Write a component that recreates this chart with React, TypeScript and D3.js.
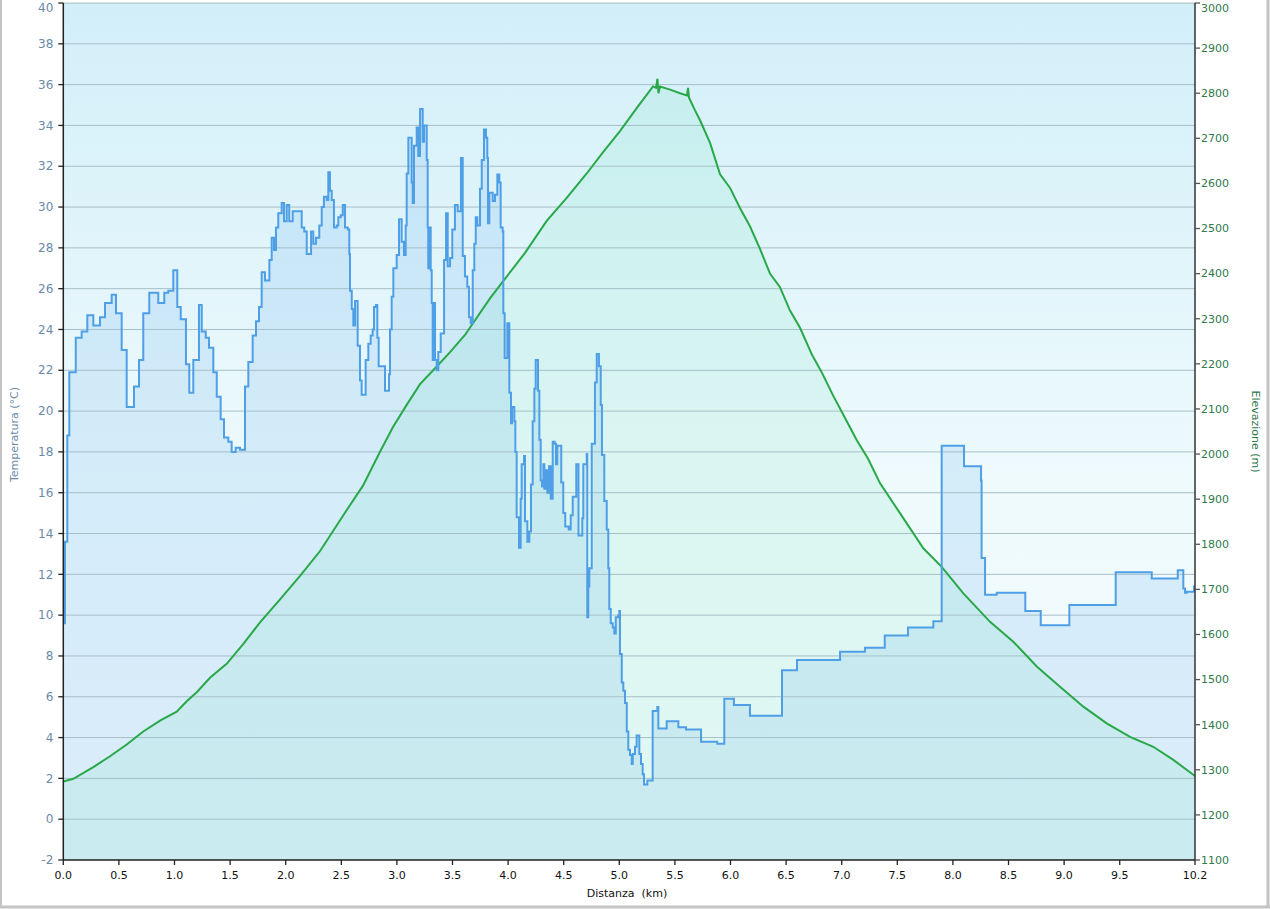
import React from "react";
import * as d3 from "d3";

// Temperature (°C) by distance (km), step series
const tempDist = [0, 0.006, 0.015, 0.036, 0.054, 0.112, 0.165, 0.216, 0.270, 0.330, 0.375, 0.435, 0.474, 0.525, 0.570, 0.636, 0.681, 0.719, 0.773, 0.854, 0.908, 0.944, 0.989, 1.025, 1.056, 1.103, 1.133, 1.169, 1.220, 1.245, 1.281, 1.310, 1.349, 1.380, 1.415, 1.445, 1.484, 1.514, 1.550, 1.589, 1.634, 1.664, 1.703, 1.733, 1.760, 1.784, 1.814, 1.853, 1.874, 1.895, 1.913, 1.933, 1.964, 1.985, 2.009, 2.032, 2.063, 2.144, 2.167, 2.189, 2.228, 2.248, 2.272, 2.302, 2.324, 2.344, 2.369, 2.383, 2.398, 2.414, 2.434, 2.459, 2.473, 2.495, 2.513, 2.533, 2.558, 2.572, 2.578, 2.594, 2.608, 2.623, 2.647, 2.668, 2.683, 2.719, 2.743, 2.764, 2.782, 2.794, 2.812, 2.824, 2.836, 2.893, 2.929, 2.938, 2.953, 2.968, 2.998, 3.019, 3.043, 3.064, 3.079, 3.088, 3.103, 3.133, 3.142, 3.154, 3.178, 3.192, 3.208, 3.232, 3.244, 3.268, 3.277, 3.282, 3.291, 3.304, 3.313, 3.322, 3.334, 3.343, 3.358, 3.372, 3.394, 3.424, 3.442, 3.457, 3.478, 3.498, 3.522, 3.547, 3.576, 3.592, 3.612, 3.633, 3.648, 3.664, 3.682, 3.696, 3.709, 3.723, 3.747, 3.763, 3.783, 3.801, 3.813, 3.819, 3.831, 3.862, 3.882, 3.903, 3.921, 3.933, 3.951, 3.957, 3.969, 3.993, 4.011, 4.026, 4.035, 4.056, 4.065, 4.077, 4.098, 4.113, 4.122, 4.143, 4.152, 4.173, 4.191, 4.206, 4.221, 4.236, 4.248, 4.269, 4.281, 4.293, 4.305, 4.317, 4.326, 4.341, 4.353, 4.368, 4.383, 4.401, 4.419, 4.431, 4.442, 4.478, 4.496, 4.514, 4.545, 4.563, 4.581, 4.613, 4.633, 4.667, 4.676, 4.707, 4.712, 4.721, 4.730, 4.752, 4.781, 4.797, 4.817, 4.833, 4.844, 4.865, 4.887, 4.901, 4.910, 4.923, 4.941, 4.955, 4.968, 4.991, 5.000, 5.006, 5.022, 5.036, 5.051, 5.067, 5.081, 5.096, 5.112, 5.121, 5.141, 5.156, 5.180, 5.195, 5.210, 5.222, 5.252, 5.300, 5.342, 5.351, 5.426, 5.531, 5.600, 5.735, 5.881, 5.944, 6.031, 6.175, 6.463, 6.598, 6.985, 7.209, 7.387, 7.596, 7.824, 7.899, 8.100, 8.253, 8.258, 8.289, 8.394, 8.651, 8.790, 9.047, 9.464, 9.788, 10.022, 10.072, 10.087, 10.103, 10.168, 10.177];
const tempVals = [9.6, 9.6, 13.6, 18.8, 21.9, 23.6, 23.9, 24.7, 24.2, 24.6, 25.3, 25.7, 24.8, 23.0, 20.2, 21.2, 22.5, 24.8, 25.8, 25.3, 25.8, 25.9, 26.9, 25.1, 24.5, 22.3, 20.9, 22.5, 25.2, 23.9, 23.6, 23.1, 21.9, 20.7, 19.6, 18.7, 18.5, 18.0, 18.2, 18.1, 21.2, 22.4, 23.7, 24.4, 25.1, 26.8, 26.4, 27.4, 28.5, 27.9, 29.0, 29.7, 30.2, 29.3, 30.1, 29.3, 29.8, 29.0, 28.8, 27.7, 28.8, 28.2, 28.5, 29.1, 30.0, 30.5, 30.35, 31.7, 30.8, 30.35, 29.0, 29.1, 29.5, 29.6, 30.1, 29.0, 28.9, 27.7, 25.9, 25.0, 24.2, 25.4, 23.2, 21.5, 20.8, 22.5, 23.3, 23.7, 24.0, 25.1, 25.2, 23.6, 22.2, 21.0, 21.8, 24.0, 25.6, 27.0, 27.65, 29.4, 28.3, 27.65, 29.1, 31.65, 33.4, 31.2, 30.2, 33.0, 33.9, 32.5, 34.8, 33.2, 34.0, 32.3, 29.0, 27.0, 29.0, 26.9, 25.3, 22.5, 25.3, 22.5, 22.0, 22.9, 23.8, 27.4, 29.7, 27.1, 27.5, 28.9, 30.1, 29.8, 32.4, 27.6, 26.6, 26.1, 24.6, 24.3, 26.9, 28.2, 29.5, 29.1, 30.9, 32.3, 33.8, 33.4, 32.4, 29.2, 30.7, 30.3, 30.6, 31.6, 31.2, 29.0, 28.8, 24.8, 22.6, 24.3, 20.9, 19.4, 20.2, 19.5, 18.0, 14.8, 13.3, 15.7, 17.4, 17.8, 14.6, 13.6, 14.1, 16.4, 19.5, 21.1, 22.5, 21.0, 18.6, 16.6, 16.3, 17.4, 16.2, 17.1, 16.0, 17.3, 15.7, 18.5, 18.4, 17.4, 18.3, 16.5, 15.0, 14.35, 14.2, 14.9, 15.8, 17.4, 13.9, 14.75, 17.4, 17.9, 9.9, 11.4, 12.3, 18.4, 21.4, 22.8, 22.2, 20.3, 17.85, 15.6, 14.2, 12.3, 10.3, 9.6, 9.4, 9.1, 9.9, 10.0, 10.2, 8.1, 6.7, 6.3, 5.7, 4.3, 3.4, 3.15, 2.7, 3.2, 3.55, 4.1, 3.2, 2.7, 2.2, 1.7, 1.9, 5.3, 5.5, 4.45, 4.8, 4.5, 4.4, 3.8, 3.7, 5.9, 5.6, 5.07, 7.3, 7.8, 8.2, 8.4, 9.0, 9.4, 9.7, 18.3, 17.3, 16.6, 12.8, 11.0, 11.1, 10.2, 9.5, 10.5, 12.1, 11.8, 12.2, 11.3, 11.1, 11.15, 11.4, 11.4];

// Elevation (m) by distance (km)
const elevDist = [0, 0.090, 0.270, 0.420, 0.570, 0.719, 0.870, 1.020, 1.110, 1.200, 1.319, 1.469, 1.619, 1.769, 1.949, 2.129, 2.309, 2.549, 2.695, 2.848, 2.965, 3.088, 3.208, 3.358, 3.478, 3.612, 3.837, 3.942, 4.152, 4.347, 4.527, 4.707, 4.856, 5.006, 5.171, 5.258, 5.303, 5.330, 5.343, 5.352, 5.366, 5.456, 5.546, 5.609, 5.618, 5.627, 5.681, 5.726, 5.816, 5.906, 5.996, 6.086, 6.175, 6.265, 6.355, 6.445, 6.535, 6.625, 6.733, 6.823, 6.922, 7.030, 7.137, 7.236, 7.345, 7.524, 7.734, 7.899, 8.094, 8.334, 8.543, 8.754, 8.963, 9.173, 9.383, 9.593, 9.802, 9.982, 10.162, 10.177];
const elevVals = [1274, 1280, 1306, 1330, 1356, 1385, 1409, 1429, 1452, 1472, 1504, 1535, 1579, 1627, 1678, 1730, 1785, 1876, 1930, 2005, 2060, 2109, 2155, 2194, 2226, 2264, 2345, 2379, 2446, 2517, 2568, 2622, 2670, 2716, 2772, 2800, 2815, 2812, 2832, 2800, 2815, 2808, 2800, 2795, 2812, 2790, 2762, 2740, 2690, 2620, 2590, 2545, 2505, 2455, 2400, 2370, 2318, 2280, 2220, 2180, 2130, 2080, 2030, 1990, 1935, 1869, 1791, 1750, 1691, 1628, 1584, 1529, 1484, 1440, 1403, 1373, 1351, 1322, 1289, 1286];

const tempTicks = [-2, 0, 2, 4, 6, 8, 10, 12, 14, 16, 18, 20, 22, 24, 26, 28, 30, 32, 34, 36, 38, 40];
const elevTicks = [1100, 1200, 1300, 1400, 1500, 1600, 1700, 1800, 1900, 2000, 2100, 2200, 2300, 2400, 2500, 2600, 2700, 2800, 2900, 3000];
const distTicks = [0, 0.5, 1, 1.5, 2, 2.5, 3, 3.5, 4, 4.5, 5, 5.5, 6, 6.5, 7, 7.5, 8, 8.5, 9, 9.5, 10.177];
const distLabels = ["0.0", "0.5", "1.0", "1.5", "2.0", "2.5", "3.0", "3.5", "4.0", "4.5", "5.0", "5.5", "6.0", "6.5", "7.0", "7.5", "8.0", "8.5", "9.0", "9.5", "10.2"];

const W = 1270, H = 909;
const L = 63.3, R = 1195, T = 3, B = 860;
const FONT = "'DejaVu Sans', Verdana, sans-serif";

export default function App() {
  const x = d3.scaleLinear().domain([0, 10.177]).range([L, R]);
  const yT = d3.scaleLinear().domain([-2, 40]).range([B, T]);
  const yE = d3.scaleLinear().domain([1100, 3000]).range([B, T]);

  const tData = tempDist.map((d, i) => [d, tempVals[i]] as [number, number]);
  const eData = elevDist.map((d, i) => [d, elevVals[i]] as [number, number]);

  const tArea = d3.area<[number, number]>().x(d => x(d[0])).y0(B).y1(d => yT(d[1])).curve(d3.curveStepAfter);
  const tLine = d3.line<[number, number]>().x(d => x(d[0])).y(d => yT(d[1])).curve(d3.curveStepAfter);
  const eArea = d3.area<[number, number]>().x(d => x(d[0])).y0(B).y1(d => yE(d[1]));
  const eLine = d3.line<[number, number]>().x(d => x(d[0])).y(d => yE(d[1]));

  const labelY = (y: number) => Math.max(y, 8);

  return (
    <svg width={W} height={H} style={{ position: "absolute", left: 0, top: 0, background: "#fff" }} fontFamily={FONT}>
      <defs>
        <linearGradient id="bg" x1="0" y1="0" x2="0" y2="1">
          <stop offset="0" stopColor="#d2eff9" />
          <stop offset="0.55" stopColor="#eefafc" />
          <stop offset="1" stopColor="#f5fcfd" />
        </linearGradient>
        <clipPath id="plot"><rect x={L} y={T} width={R - L} height={B - T} /></clipPath>
      </defs>
      {/* outer frame */}
      <line x1={1} y1={0} x2={1} y2={908} stroke="#c4c4c4" strokeWidth={2} />
      <line x1={1268} y1={0} x2={1268} y2={908} stroke="#c4c4c4" strokeWidth={3} />
      <line x1={0} y1={907} x2={1270} y2={907} stroke="#c4c4c4" strokeWidth={3} />

      <rect x={L} y={T} width={R - L} height={B - T} fill="url(#bg)" />
      <g clipPath="url(#plot)">
        <path d={tArea(tData) || ""} fill="rgba(90,165,240,0.17)" />
        <path d={eArea(eData) || ""} fill="rgba(70,215,160,0.11)" />
        {tempTicks.map(v => (
          <line key={v} x1={L} x2={R} y1={yT(v)} y2={yT(v)} stroke="#a6bfc8" strokeWidth={1} />
        ))}
        <path d={eLine(eData) || ""} fill="none" stroke="#28a848" strokeWidth={2} />
        <path d={tLine(tData) || ""} fill="none" stroke="#4f9fe6" strokeWidth={2} />
      </g>
      <line x1={L} x2={R} y1={T} y2={T} stroke="#b4c8d0" strokeWidth={1} />

      {/* left axis */}
      <line x1={L} x2={L} y1={T} y2={B} stroke="#222" strokeWidth={1.5} />
      {tempTicks.map(v => (
        <g key={v}>
          <line x1={L - 5} x2={L} y1={yT(v)} y2={yT(v)} stroke="#222" strokeWidth={1.3} />
          <text x={L - 10} y={labelY(yT(v))} dy="0.35em" textAnchor="end" fontSize={12} fill="#6a8aa8">{v}</text>
        </g>
      ))}
      <text transform={`translate(18,${(T + B) / 2 + 3}) rotate(-90)`} textAnchor="middle" fontSize={11} fill="#6a8aa8">Temperatura (°C)</text>

      {/* right axis */}
      <line x1={R} x2={R} y1={T} y2={B} stroke="#333" strokeWidth={1.5} />
      {elevTicks.map(v => (
        <g key={v}>
          <line x1={R} x2={R + 5} y1={yE(v)} y2={yE(v)} stroke="#555" strokeWidth={1.3} />
          <text x={R + 6} y={labelY(yE(v))} dy="0.35em" textAnchor="start" fontSize={11} fill="#2f7a4c">{v}</text>
        </g>
      ))}
      <text transform={`translate(1252,${(T + B) / 2}) rotate(90)`} textAnchor="middle" fontSize={11} fill="#2f7a4c">Elevazione (m)</text>

      {/* bottom axis */}
      <line x1={L} x2={R} y1={B} y2={B} stroke="#222" strokeWidth={1.5} />
      {distTicks.map((v, i) => (
        <g key={i}>
          <line x1={x(v)} x2={x(v)} y1={B} y2={B + 5} stroke="#222" strokeWidth={1.3} />
          <text x={x(v)} y={879} textAnchor="middle" fontSize={11} fill="#111">{distLabels[i]}</text>
        </g>
      ))}
      <text x={627} y={897} textAnchor="middle" fontSize={11} fill="#111" style={{ whiteSpace: "pre" }}>{"Distanza  (km)"}</text>
    </svg>
  );
}
